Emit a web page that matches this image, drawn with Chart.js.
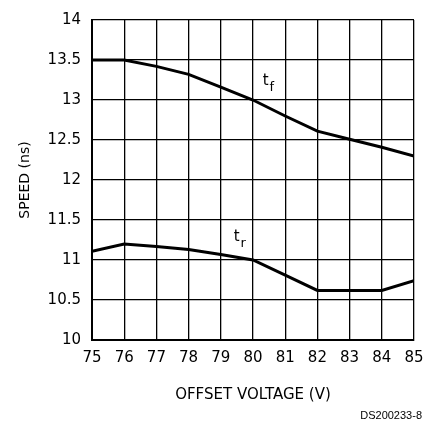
<!DOCTYPE html>
<html>
<head>
<meta charset="utf-8">
<script src="https://cdn.jsdelivr.net/npm/chart.js@4.4.0/dist/chart.umd.min.js"></script>
<style>
  html, body { margin: 0; padding: 0; background: #fff; }
  #wrap { position: relative; width: 435px; height: 424px; }
</style>
</head>
<body>
<div id="wrap"><canvas id="speedChart" width="435" height="424"></canvas></div>
<script>
// Data
const offsetVoltage = [75, 76, 77, 78, 79, 80, 81, 82, 83, 84, 85];
const tFall = [13.5, 13.5, 13.42, 13.32, 13.16, 13.0, 12.8, 12.61, 12.51, 12.41, 12.3];
const tRise = [11.11, 11.2, 11.17, 11.13, 11.07, 11.0, 10.81, 10.62, 10.62, 10.62, 10.74];
const yTicks = [10, 10.5, 11, 11.5, 12, 12.5, 13, 13.5, 14];
const curveLabels = [
    { main: 't', sub: 'f', x: 80.3, y: 13.24 },
    { main: 't', sub: 'r', x: 79.4, y: 11.29 }
];

const FONT = 'DejaVu Sans';

// Draws curve labels (t_f, t_r) and the drawing number
const annotations = {
    id: 'annotations',
    afterDraw(chart) {
        const { ctx, scales } = chart;
        ctx.save();
        ctx.fillStyle = '#000';
        ctx.textBaseline = 'middle';
        curveLabels.forEach(l => {
            const px = scales.x.getPixelForValue(l.x);
            const py = scales.y.getPixelForValue(l.y);
            ctx.font = '15px ' + FONT;
            ctx.textAlign = 'left';
            ctx.fillText(l.main, px, py);
            const w = ctx.measureText(l.main).width;
            ctx.font = '13px ' + FONT;
            ctx.fillText(l.sub, px + w + 1, py + 7);
        });
        ctx.font = '11px "Liberation Sans"';
        ctx.textAlign = 'right';
        ctx.fillText('DS200233-8', 422, 416);
        ctx.restore();
    }
};

const canvas = document.getElementById('speedChart');
new Chart(canvas.getContext('2d'), {
    type: 'line',
    data: {
        datasets: [
            {
                label: 'tf',
                data: offsetVoltage.map((v, i) => ({ x: v, y: tFall[i] })),
                borderColor: '#000',
                borderWidth: 3,
                pointRadius: 0,
                tension: 0
            },
            {
                label: 'tr',
                data: offsetVoltage.map((v, i) => ({ x: v, y: tRise[i] })),
                borderColor: '#000',
                borderWidth: 3,
                pointRadius: 0,
                tension: 0
            }
        ]
    },
    options: {
        responsive: false,
        animation: false,
        layout: { padding: { top: 16, right: 21, left: 0, bottom: 0 } },
        plugins: {
            legend: { display: false },
            tooltip: { enabled: false }
        },
        scales: {
            x: {
                type: 'linear',
                min: 75,
                max: 85,
                afterFit(scale) { scale.height = 84; },
                ticks: {
                    stepSize: 1,
                    color: '#000',
                    padding: 9,
                    font: { family: FONT, size: 15 }
                },
                grid: { color: '#000', lineWidth: 1.3, drawTicks: false, tickLength: 0 },
                border: { color: '#000', width: 2 },
                title: {
                    display: true,
                    text: 'OFFSET VOLTAGE (V)',
                    color: '#000',
                    font: { family: FONT, size: 15 },
                    padding: { top: 0, bottom: 20 }
                }
            },
            y: {
                min: 10,
                max: 14,
                afterFit(scale) { scale.width = 92; },
                afterBuildTicks(scale) { scale.ticks = yTicks.map(v => ({ value: v })); },
                ticks: {
                    color: '#000',
                    padding: 11,
                    font: { family: FONT, size: 15 },
                    callback: function(value) {
                        return String(value);
                    }
                },
                grid: { color: '#000', lineWidth: 1.3, drawTicks: false, tickLength: 0 },
                border: { color: '#000', width: 2 },
                title: {
                    display: true,
                    text: 'SPEED (ns)',
                    color: '#000',
                    font: { family: FONT, size: 14 },
                    padding: { top: 17, bottom: 0 }
                }
            }
        }
    },
    plugins: [annotations]
});
</script>
</body>
</html>
